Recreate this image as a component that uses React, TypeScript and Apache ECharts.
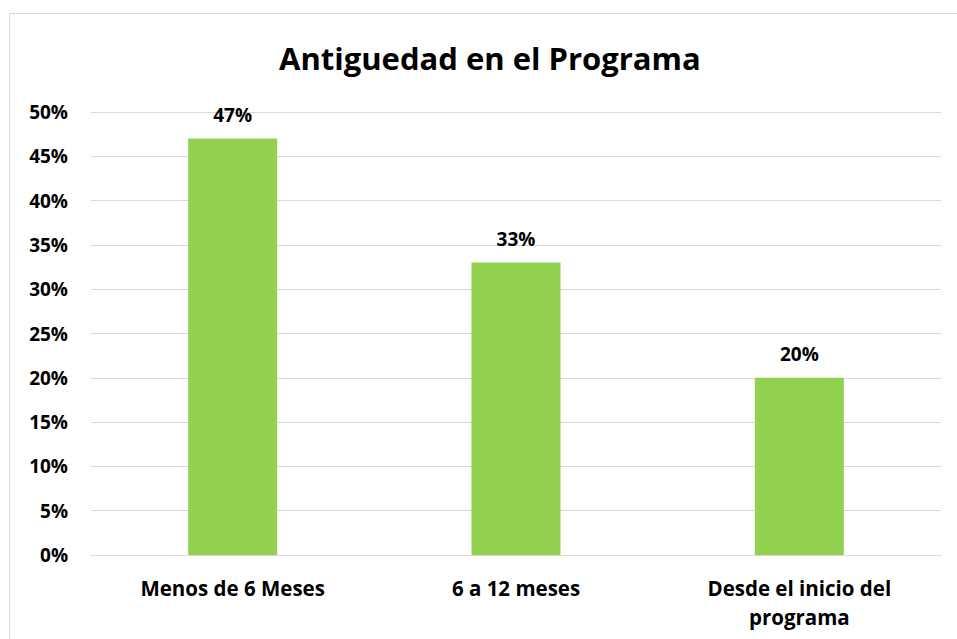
import React, { useEffect, useRef } from "react";
import * as echarts from "echarts";

const title = "Antiguedad en el Programa";
const categories = ["Menos de 6 Meses", "6 a 12 meses", "Desde el inicio del\nprograma"];
const values = [47, 33, 20];
const yTicks = { min: 0, max: 50, interval: 5 };

const FONT = "'Open Sans', 'Noto Sans', sans-serif";

export default function App() {
  const ref = useRef<HTMLDivElement>(null);
  useEffect(() => {
    if (!ref.current) return;
    const chart = echarts.init(ref.current, null, { renderer: "svg" });
    chart.setOption({
      animation: false,
      backgroundColor: "#ffffff",
      title: {
        text: title,
        left: 274,
        top: 37,
        textStyle: { fontFamily: FONT, fontWeight: "bold", fontSize: 31, color: "#000" },
      },
      graphic: [
        {
          type: "rect",
          shape: { x: 9.5, y: 13.5, width: 960, height: 640 },
          style: { fill: "none", stroke: "#d9d9d9", lineWidth: 1 },
          silent: true,
        },
      ],
      grid: { left: 91, right: 16, top: 112, bottom: 84 },
      xAxis: {
        type: "category",
        data: categories,
        axisLine: { show: true, lineStyle: { color: "#d9d9d9", width: 1 } },
        axisTick: { show: false },
        axisLabel: {
          fontFamily: FONT,
          fontWeight: "bold",
          fontSize: 20.5,
          color: "#000",
          margin: 18,
          lineHeight: 29,
          interval: 0,
        },
      },
      yAxis: {
        type: "value",
        min: yTicks.min,
        max: yTicks.max,
        interval: yTicks.interval,
        axisLine: { show: false },
        axisTick: { show: false },
        splitLine: { lineStyle: { color: "#d9d9d9", width: 1 } },
        axisLabel: {
          formatter: "{value}%",
          fontFamily: FONT,
          fontWeight: "bold",
          fontSize: 19,
          color: "#000",
          margin: 23,
        },
      },
      series: [
        {
          type: "bar",
          data: values,
          barWidth: "31.4%",
          itemStyle: { color: "#92D050" },
          label: {
            show: true,
            position: "top",
            distance: 14,
            formatter: "{c}%",
            fontFamily: FONT,
            fontWeight: "bold",
            fontSize: 19,
            color: "#000",
          },
        },
      ],
    });
    return () => chart.dispose();
  }, []);
  return (
    <div
      ref={ref}
      style={{ position: "absolute", left: 0, top: 0, width: 957, height: 639 }}
    />
  );
}
